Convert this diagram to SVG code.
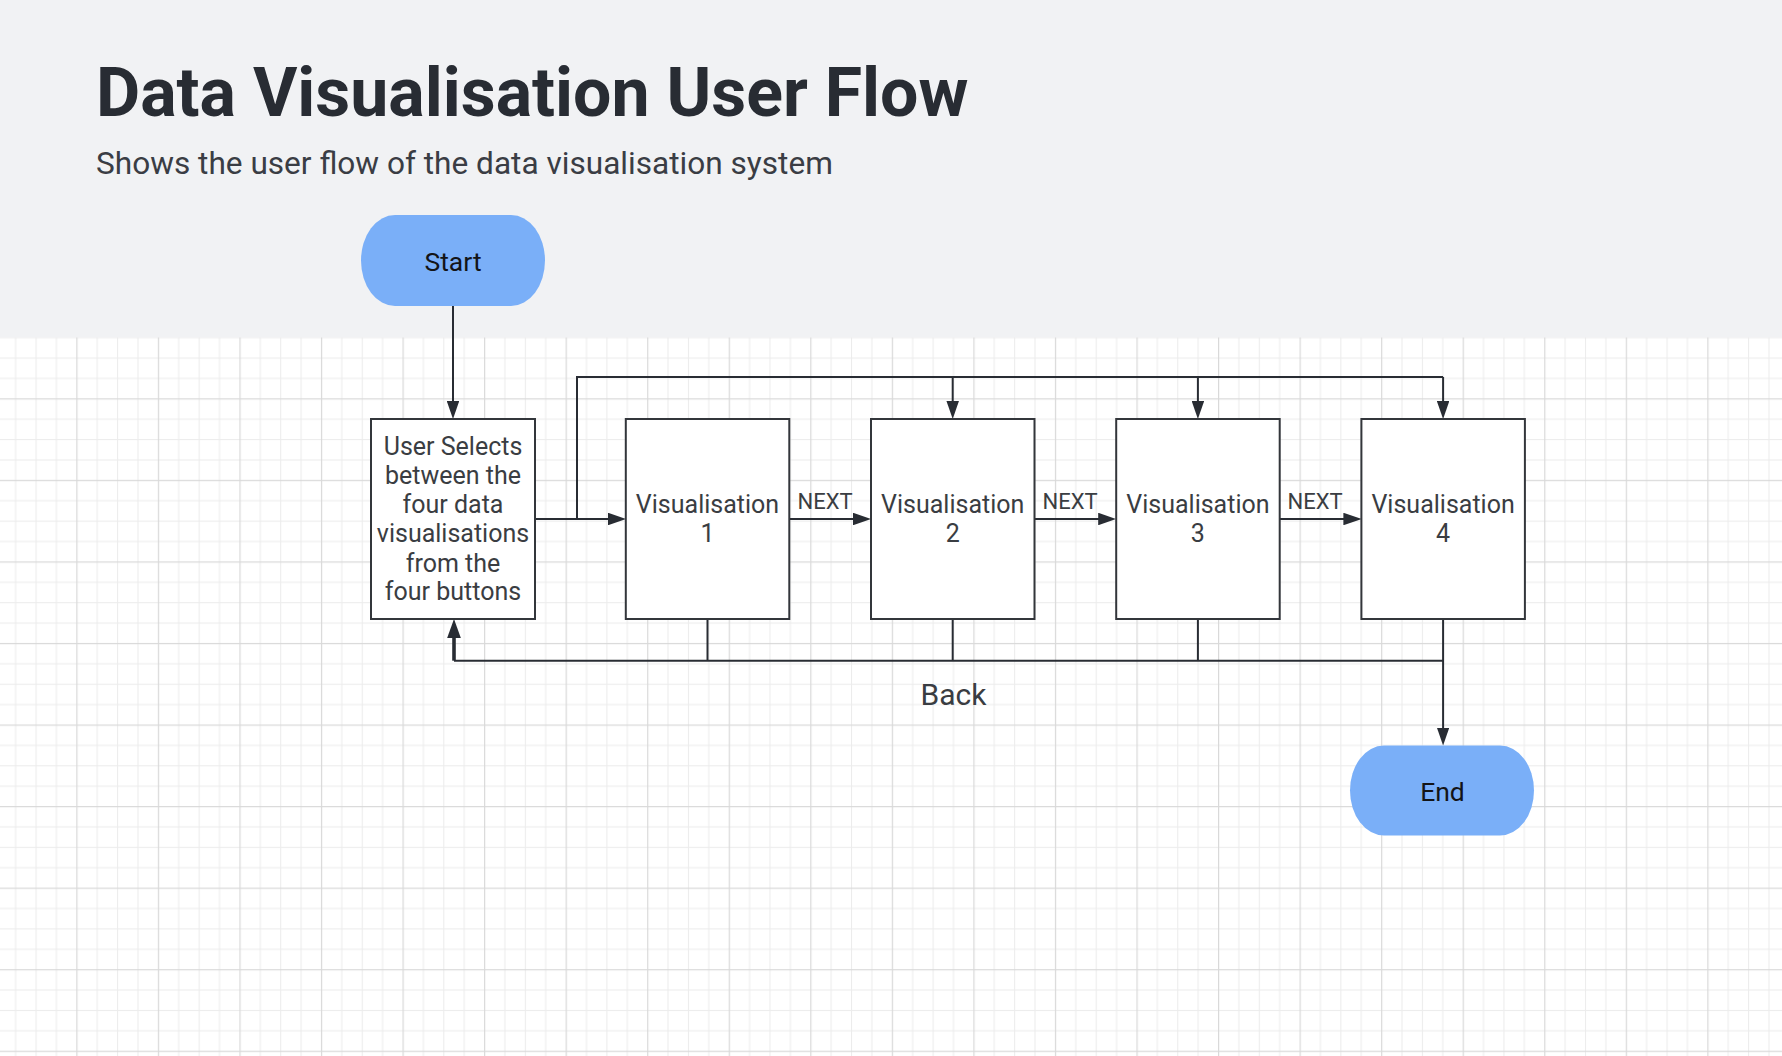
<svg xmlns="http://www.w3.org/2000/svg" width="1782" height="1056" viewBox="0 0 1782 1056">
  <style>
    .box { fill: #ffffff; stroke: #33363b; stroke-width: 2; }
    .term { fill: #7aaff8; }
    .lbl { font-family: Roboto, "Liberation Sans", sans-serif; font-size: 25px; fill: #3a3d42; text-anchor: middle; }
    .term-lbl { font-family: Roboto, "Liberation Sans", sans-serif; font-size: 26.5px; fill: #131417; text-anchor: middle; }
    .edge { fill: none; stroke: #282c33; stroke-width: 2; }
    .edge-thick { fill: none; stroke: #282c33; stroke-width: 3.6; }
    .elbl { font-family: Roboto, "Liberation Sans", sans-serif; font-size: 22px; fill: #3a3d42; text-anchor: middle; }
  </style>
  <defs>
    <pattern id="grid" patternUnits="userSpaceOnUse" x="-5.25" y="-9.45" width="81.55" height="81.55">
      <rect x="0" y="0" width="81.55" height="81.55" fill="#ffffff"/>
      <rect x="20.39" y="0" width="1" height="81.55" fill="#ececec"/>
      <rect x="40.78" y="0" width="1" height="81.55" fill="#ececec"/>
      <rect x="61.16" y="0" width="1" height="81.55" fill="#ececec"/>
      <rect x="0" y="20.39" width="81.55" height="1" fill="#ececec"/>
      <rect x="0" y="40.78" width="81.55" height="1" fill="#ececec"/>
      <rect x="0" y="61.16" width="81.55" height="1" fill="#ececec"/>
      <rect x="0" y="0" width="1.2" height="81.55" fill="#d9d9d9"/>
      <rect x="0" y="0" width="81.55" height="1.2" fill="#d9d9d9"/>
    </pattern>
    <marker id="arrow" markerUnits="userSpaceOnUse" markerWidth="18" markerHeight="12.5" refX="8" refY="6.25" orient="auto">
      <path d="M0,0 L18,6.25 L0,12.5 z" fill="#282c33"/>
    </marker>
    <marker id="arrow-big" markerUnits="userSpaceOnUse" markerWidth="19" markerHeight="13.7" refX="9" refY="6.85" orient="auto">
      <path d="M0,0 L19,6.85 L0,13.7 z" fill="#282c33"/>
    </marker>
  </defs>

  <rect x="0" y="0" width="1782" height="1056" fill="url(#grid)"/>
  <rect x="0" y="0" width="1782" height="337.5" fill="#f1f2f4"/>

  <g id="header">
    <text x="96" y="116" font-family="Roboto, 'Liberation Sans', sans-serif" font-weight="bold" font-size="68" fill="#282c33">Data Visualisation User Flow</text>
    <text x="96" y="174" font-family="Roboto, 'Liberation Sans', sans-serif" font-size="31.6" fill="#3a3d44">Shows the user flow of the data visualisation system</text>
  </g>

  <g id="connectors">
    <path class="edge" d="M453,306 L453,409" marker-end="url(#arrow)"/>
    <path class="edge" d="M535,519 L616,519" marker-end="url(#arrow)"/>
    <path class="edge" d="M577,519 L577,377 L1443.1,377"/>
    <path class="edge" d="M952.7,377 L952.7,409" marker-end="url(#arrow)"/>
    <path class="edge" d="M1197.9,377 L1197.9,409" marker-end="url(#arrow)"/>
    <path class="edge" d="M1443.1,377 L1443.1,409" marker-end="url(#arrow)"/>
    <path class="edge" d="M789.3,519 L861,519" marker-end="url(#arrow)"/>
    <path class="edge" d="M1034.5,519 L1106.2,519" marker-end="url(#arrow)"/>
    <path class="edge" d="M1279.7,519 L1351.4,519" marker-end="url(#arrow)"/>
    <path class="edge" d="M707.5,619 L707.5,660.7"/>
    <path class="edge" d="M952.7,619 L952.7,660.7"/>
    <path class="edge" d="M1197.9,619 L1197.9,660.7"/>
    <path class="edge" d="M1443.1,619 L1443.1,735.5" marker-end="url(#arrow)"/>
    <path class="edge" d="M1443.1,660.7 L454,660.7"/>
    <path class="edge-thick" d="M454,660.7 L454,629" marker-end="url(#arrow-big)"/>
    <text class="elbl" x="825" y="509">NEXT</text>
    <text class="elbl" x="1070" y="509">NEXT</text>
    <text class="elbl" x="1315" y="509">NEXT</text>
    <text x="953.5" y="705" font-family="Roboto, 'Liberation Sans', sans-serif" font-size="30" fill="#3a3d42" text-anchor="middle">Back</text>
  </g>

  <g id="start">
    <rect class="term" x="361" y="215" width="184" height="91" rx="34" ry="45.5"/>
    <text class="term-lbl" x="453" y="270.7">Start</text>
  </g>

  <g id="select">
    <rect class="box" x="371" y="419" width="164" height="200"/>
    <text class="lbl" x="453" y="455">User Selects</text>
    <text class="lbl" x="453" y="484">between the</text>
    <text class="lbl" x="453" y="513.3">four data</text>
    <text class="lbl" x="453" y="542">visualisations</text>
    <text class="lbl" x="453" y="571.5">from the</text>
    <text class="lbl" x="453" y="600.3">four buttons</text>
  </g>

  <g id="vis1">
    <rect class="box" x="625.8" y="419" width="163.5" height="200"/>
    <text class="lbl" x="707.5" y="513.3">Visualisation</text>
    <text class="lbl" x="707.5" y="542.3">1</text>
  </g>

  <g id="vis2">
    <rect class="box" x="871" y="419" width="163.5" height="200"/>
    <text class="lbl" x="952.7" y="513.3">Visualisation</text>
    <text class="lbl" x="952.7" y="542.3">2</text>
  </g>

  <g id="vis3">
    <rect class="box" x="1116.2" y="419" width="163.5" height="200"/>
    <text class="lbl" x="1197.9" y="513.3">Visualisation</text>
    <text class="lbl" x="1197.9" y="542.3">3</text>
  </g>

  <g id="vis4">
    <rect class="box" x="1361.4" y="419" width="163.5" height="200"/>
    <text class="lbl" x="1443.1" y="513.3">Visualisation</text>
    <text class="lbl" x="1443.1" y="542.3">4</text>
  </g>

  <g id="end">
    <rect class="term" x="1350" y="745.5" width="184" height="90" rx="34" ry="45"/>
    <text class="term-lbl" x="1442.5" y="801.3">End</text>
  </g>
</svg>
